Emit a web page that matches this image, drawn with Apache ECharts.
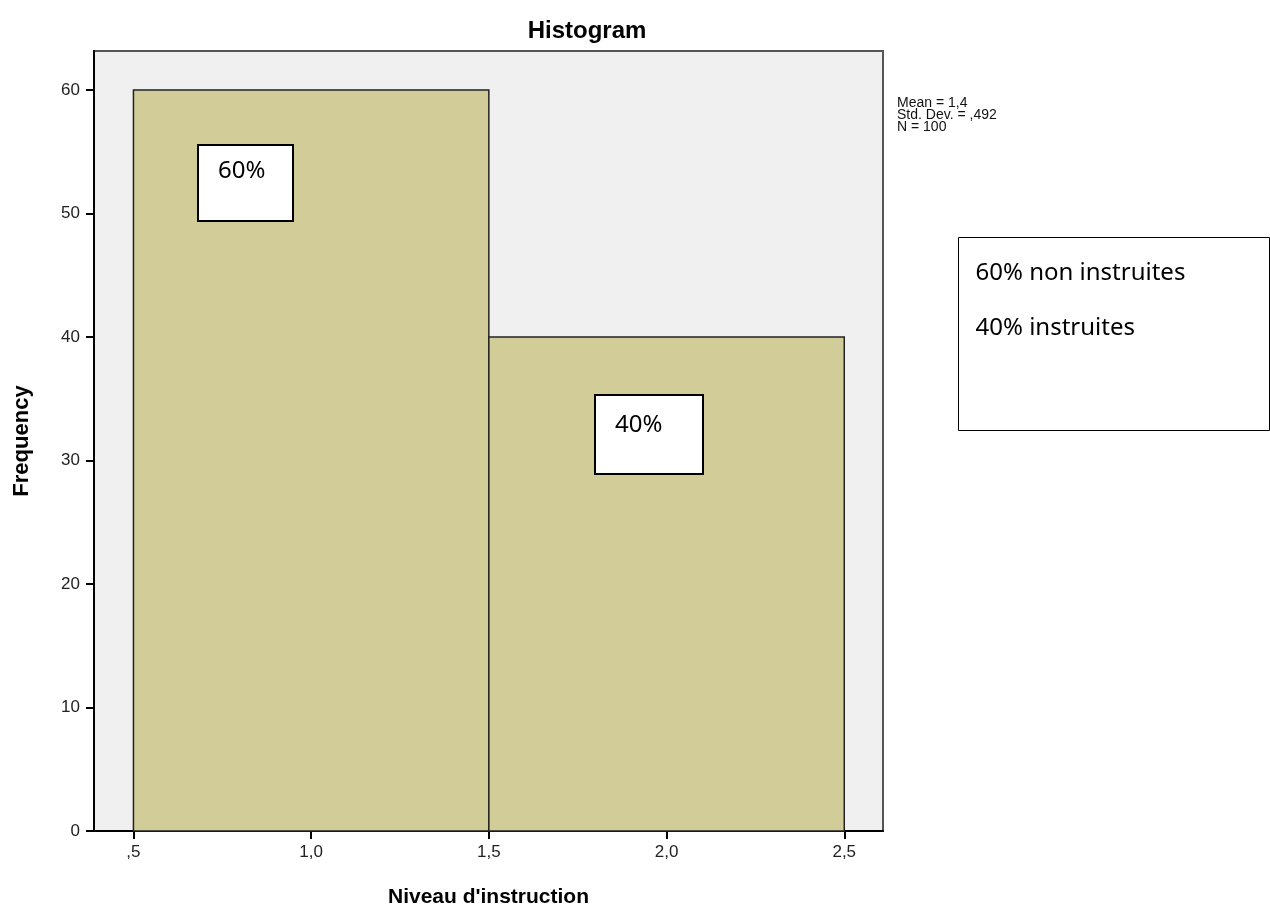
<!DOCTYPE html>
<html lang="fr">
<head>
<meta charset="UTF-8">
<title>Histogram</title>
<script src="https://cdn.jsdelivr.net/npm/echarts@6/dist/echarts.min.js"></script>
<style>
body { margin: 0; background: #fff; }
#main { width: 1270px; height: 916px; }
</style>
</head>
<body>
<div id="main"></div>
<script>
// bins of the histogram: [start, end, frequency]
var binStart = [0.5, 1.5];
var binEnd = [1.5, 2.5];
var frequency = [60, 40];
var xTicks = [0.5, 1.0, 1.5, 2.0, 2.5];
var yTicks = [0, 10, 20, 30, 40, 50, 60];
var stats = ['Mean = 1,4', 'Std. Dev. = ,492', 'N = 100'];
var pctLabels = ['60%', '40%'];
var legendLines = ['60% non instruites', '40% instruites'];

// SPSS style: comma decimal, no leading zero
function frNum(v) {
    var s = v.toFixed(1).replace('.', ',');
    if (s.indexOf('0,') === 0) s = s.slice(1);
    return s;
}

var binData = binStart.map(function (s, i) { return [s, binEnd[i], frequency[i]]; });

var chart = echarts.init(document.getElementById('main'));

var option = {
    animation: false,
    title: {
        text: 'Histogram',
        left: 582, top: 14, textAlign: 'center',
        textStyle: { fontFamily: 'Liberation Sans', fontSize: 24, fontWeight: 'bold', color: '#000' }
    },
    grid: {
        left: 94, top: 51, right: 387, bottom: 85,
        outerBoundsMode: 'none',
        show: true, backgroundColor: '#f0f0f0', borderColor: '#555', borderWidth: 2
    },
    xAxis: {
        type: 'value', min: 0.389, max: 2.609,
        name: "Niveau d'instruction", nameLocation: 'middle', nameGap: 56,
        nameTextStyle: { fontFamily: 'Liberation Sans', fontSize: 21, fontWeight: 'bold', color: '#000' },
        splitLine: { show: false },
        axisLine: { lineStyle: { color: '#000', width: 2 } },
        axisTick: { customValues: xTicks, length: 8, lineStyle: { color: '#000', width: 2 } },
        axisLabel: { customValues: xTicks, formatter: frNum, margin: 13,
            fontFamily: 'Liberation Sans', fontSize: 17, color: '#222' }
    },
    yAxis: {
        type: 'value', min: 0, max: 63.16,
        name: 'Frequency', nameLocation: 'middle', nameGap: 61,
        nameTextStyle: { fontFamily: 'Liberation Sans', fontSize: 22, fontWeight: 'bold', color: '#000' },
        splitLine: { show: false },
        axisLine: { show: true, lineStyle: { color: '#000', width: 2 } },
        axisTick: { customValues: yTicks, length: 8, lineStyle: { color: '#000', width: 2 } },
        axisLabel: { customValues: yTicks, margin: 14,
            fontFamily: 'Liberation Sans', fontSize: 17, color: '#222' }
    },
    series: [{
        type: 'custom',
        data: binData,
        encode: { x: [0, 1], y: 2 },
        renderItem: function (params, api) {
            var p0 = api.coord([api.value(0), api.value(2)]);
            var p1 = api.coord([api.value(1), 0]);
            return {
                type: 'rect',
                shape: { x: p0[0], y: p0[1], width: p1[0] - p0[0], height: p1[1] - p0[1] },
                style: { fill: '#d2cd98', stroke: '#222', lineWidth: 1.5 }
            };
        }
    }],
    graphic: [
        {
            type: 'text', left: 897, top: 96, z: 100,
            style: { text: stats.join('\n'), font: '14px "Liberation Sans"', lineHeight: 12, fill: '#111' }
        },
        {
            type: 'group', left: 197, top: 144, z: 100,
            children: [
                { type: 'rect', z: 100, shape: { x: 0, y: 0, width: 95, height: 76 }, style: { fill: '#fff', stroke: '#000', lineWidth: 2 } },
                { type: 'text', z: 101, x: 20, y: 14, style: { text: pctLabels[0], font: '24px "Noto Sans"', fill: '#000' } }
            ]
        },
        {
            type: 'group', left: 594, top: 394, z: 100,
            children: [
                { type: 'rect', z: 100, shape: { x: 0, y: 0, width: 108, height: 79 }, style: { fill: '#fff', stroke: '#000', lineWidth: 2 } },
                { type: 'text', z: 101, x: 20, y: 18, style: { text: pctLabels[1], font: '24px "Noto Sans"', fill: '#000' } }
            ]
        },
        {
            type: 'group', left: 958, top: 237, z: 100,
            children: [
                { type: 'rect', z: 100, shape: { x: 0, y: 0, width: 311, height: 193 }, style: { fill: '#fff', stroke: '#000', lineWidth: 1 } },
                { type: 'text', z: 101, x: 17, y: 24, style: { text: legendLines[0], font: '24px "Noto Sans"', fill: '#000' } },
                { type: 'text', z: 101, x: 17, y: 79, style: { text: legendLines[1], font: '24px "Noto Sans"', fill: '#000' } }
            ]
        }
    ]
};

chart.setOption(option);
</script>
</body>
</html>
